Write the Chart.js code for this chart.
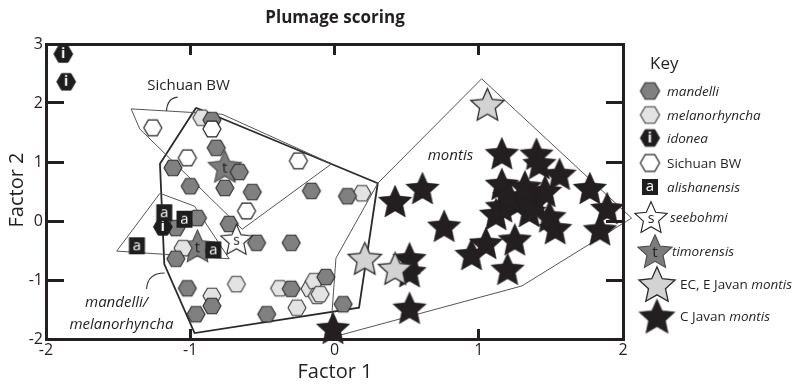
<!DOCTYPE html>
<html><head><meta charset="utf-8">
<script src="https://cdn.jsdelivr.net/npm/chart.js@4.4.0/dist/chart.umd.min.js"></script>
<style>html,body{margin:0;padding:0;background:#fff}#wrap{width:792px;height:385px}</style>
</head><body><div id="wrap"><canvas id="c" width="792" height="385"></canvas></div>
<script>
// ---- data (Factor 1, Factor 2) ----
const xTicks = [-2, -1, 0, 1, 2];
const yTicks = [-2, -1, 0, 1, 2, 3];

const mandelli = [[-0.85,1.71],[-0.82,1.24],[-1.12,0.90],[-0.66,0.83],[-1.00,0.59],[-0.76,0.56],[-0.57,0.49],[-0.16,0.51],
  [-0.95,0.05],[-1.10,-0.12],[-0.73,-0.05],[-0.54,-0.37],[-0.30,-0.37],[-1.10,-0.64],[-1.02,-1.14],[-0.85,-1.44],
  [-0.96,-1.58],[-0.47,-1.58],[-0.30,-1.15],[-0.06,-0.95],[0.09,0.42],[0.06,-1.41]];
const melanorhyncha = [[-0.92,1.75],[-1.05,-0.46],[-0.68,-1.07],[-0.38,-1.14],[-0.17,-1.15],[-0.14,-1.02],[-0.12,-1.27],
  [-0.26,-1.47],[-0.85,-1.27],[0.19,0.47],[-0.10,-1.24]];
const idonea = [[-1.88,2.83],[-1.86,2.36],[-1.19,-0.10]];
const sichuanBW = [[-1.26,1.58],[-0.85,1.56],[-1.02,1.07],[-0.25,1.02],[-0.61,0.17]];
const alishanensis = [[-1.18,0.14],[-1.04,0.03],[-1.37,-0.42],[-0.84,-0.49]];
const seebohmi = [[-0.68,-0.31]];
const timorensis = [[-0.76,0.93],[-0.95,-0.42]];
const ecEJavanMontis = [[1.06,1.98],[0.21,-0.63],[0.42,-0.80]];
const cJavanMontis = [[0.42,0.34],[0.61,0.56],[0.76,-0.08],[0.52,-0.63],[0.52,-0.85],[0.52,-1.47],[-0.01,-1.81],
  [0.95,-0.56],[1.05,-0.37],[1.20,-0.81],[1.25,-0.31],[1.16,1.15],[1.40,1.14],[1.42,0.98],[1.56,0.80],[1.77,0.56],
  [1.89,0.22],[1.84,-0.14],[1.53,-0.12],[1.12,0.12],[1.16,0.63],[1.16,0.25],[1.28,0.34],[1.39,0.34],[1.49,0.08],
  [1.35,0.17],[1.21,0.42],[1.32,0.59],[1.46,0.51]];

// hull outlines
const hullSichuan = [[-1.41,1.90],[-0.78,1.81],[-0.02,0.97],[-0.64,-0.14],[-1.35,1.56],[-1.41,1.90]];
const hullMandelli = [[-0.96,1.92],[-1.21,0.97],[-1.18,-0.73],[-0.97,-1.90],[0.17,-1.47],[0.30,0.64],[-0.96,1.92]];
const hullAlishan = [[-1.21,0.47],[-0.97,0.25],[-0.73,-0.64],[-1.51,-0.51],[-1.21,0.47]];
const hullMontis = [[1.02,2.41],[2.06,0.05],[1.30,-1.10],[-0.03,-1.98],[0.01,-0.63],[0.30,0.64],[1.02,2.41]];

const pts = a => a.map(p => ({x:p[0], y:p[1]}));
const FONT = "'Open Sans', 'Noto Sans', sans-serif";
const INK = '#231f20';

// ---- symbol images ----
function mk(size){ const c=document.createElement('canvas'); c.width=size; c.height=size; return c; }
function hexImg(r, fill, stroke, lw, letter, lc, fs){
  const s=Math.ceil(2*r+lw+4), c=mk(s), g=c.getContext('2d'), m=s/2;
  g.beginPath();
  for(let i=0;i<6;i++){ const a=i*Math.PI/3; g.lineTo(m+r*Math.cos(a), m+r*Math.sin(a)); }
  g.closePath(); g.fillStyle=fill; g.fill(); g.lineWidth=lw; g.strokeStyle=stroke; g.stroke();
  if(letter){ g.fillStyle=lc; g.font='bold '+fs+'px '+FONT; g.textAlign='center'; g.textBaseline='middle'; g.fillText(letter,m,m+0.5); }
  return c;
}
function starImg(R, k, fill, stroke, lw, letter, lc, fs){
  const s=Math.ceil(2*R+lw+4), c=mk(s), g=c.getContext('2d'), m=s/2, cy=m+R*0.1;
  g.beginPath();
  for(let i=0;i<10;i++){ const a=-Math.PI/2+i*Math.PI/5, rr=i%2?R*k:R; g.lineTo(m+rr*Math.cos(a), cy+rr*Math.sin(a)); }
  g.closePath(); g.fillStyle=fill; g.fill(); if(lw>0){ g.lineWidth=lw; g.strokeStyle=stroke; g.lineJoin='miter'; g.stroke(); }
  if(letter){ g.fillStyle=lc; g.font=fs+'px '+FONT; g.textAlign='center'; g.textBaseline='middle'; g.fillText(letter,m,cy); }
  return c;
}
function sqImg(w, h, letter){
  const s=Math.ceil(Math.max(w,h)+2), c=mk(s), g=c.getContext('2d');
  g.fillStyle='#1e1e1e'; g.fillRect((s-w)/2,(s-h)/2,w,h);
  g.fillStyle='#fff'; g.font='15px '+FONT; g.textAlign='center'; g.textBaseline='middle'; g.fillText(letter,s/2,s/2);
  return c;
}
const SYM = {
  mandelli: hexImg(9,'#808080','#2b2b2b',1.1),
  melan: hexImg(9,'#e3e3e3','#3a3a3a',1.1),
  idonea: hexImg(9.4,'#1e1c1c','#1e1c1c',1,'i','#fff',14),
  sichuan: hexImg(9,'#ffffff','#222',1.2),
  alishan: sqImg(16,17,'a'),
  seeb: starImg(16.5,0.47,'#ffffff','#222',1.1,'s','#222',14),
  timor: starImg(17.5,0.47,'#7c7c7c','#4a4a4a',1.1,'t','#222',15),
  ec: starImg(17.5,0.47,'#d3d3d3','#2b2b2b',1.3),
  cj: starImg(17.5,0.47,'#231f20','#231f20',0.5)
};
const LSYM = {
  mandelli: hexImg(9.6,'#808080','#2b2b2b',1.1),
  melan: hexImg(9.6,'#e3e3e3','#3a3a3a',1.1),
  idonea: hexImg(9.6,'#1e1c1c','#1e1c1c',1,'i','#fff',14),
  sichuan: hexImg(9.6,'#ffffff','#222',1.2),
  alishan: sqImg(16,16,'a'),
  seeb: starImg(17,0.47,'#ffffff','#222',1.1,'s','#222',14),
  timor: starImg(18,0.47,'#7c7c7c','#4a4a4a',1.1,'t','#222',15),
  ec: starImg(19,0.47,'#d3d3d3','#2b2b2b',1.3),
  cj: starImg(19,0.47,'#231f20','#231f20',0.5)
};

function ptSet(label, arr, img, order){
  return {label, data: pts(arr), pointStyle: img, pointRadius: 8, pointHoverRadius: 8, showLine:false, order, clip:false};
}
function hull(label, arr, color, w, order){
  return {label, data: pts(arr), showLine:true, pointRadius:0, borderColor:color, borderWidth:w, fill:false, tension:0, order, clip:false};
}

const textLayer = {
  id:'textLayer',
  afterDraw(chart){
    const ctx = chart.ctx, x = chart.scales.x, y = chart.scales.y;
    const P=(vx,vy)=>[x.getPixelForValue(vx), y.getPixelForValue(vy)];
    ctx.save();
    // leader curves
    ctx.lineWidth=1.1; ctx.strokeStyle='#333';
    let s=P(-1.165,1.864), cc=P(-1.158,2.085), e=P(-1.088,2.10);
    ctx.beginPath(); ctx.moveTo(s[0],s[1]); ctx.quadraticCurveTo(cc[0],cc[1],e[0],e[1]); ctx.stroke();
    s=P(-1.303,-1.153); cc=P(-1.296,-0.881); e=P(-1.178,-0.881);
    ctx.beginPath(); ctx.moveTo(s[0],s[1]); ctx.quadraticCurveTo(cc[0],cc[1],e[0],e[1]); ctx.stroke();
    // annotations
    ctx.fillStyle=INK; ctx.textAlign='center'; ctx.textBaseline='middle';
    ctx.font='15px '+FONT; ctx.fillText('Sichuan BW', ...P(-1.012,2.288));
    ctx.font='italic 15px '+FONT; ctx.fillText('montis', ...P(0.804,1.10));
    ctx.fillText('mandelli/', ...P(-1.511,-1.39));
    ctx.fillText('melanorhyncha', ...P(-1.477,-1.763));
    // titles
    ctx.font='bold 17px '+FONT; ctx.fillText('Plumage scoring', 335, 18);
    ctx.font='20px '+FONT; ctx.fillText('Factor 1', 335, 372);
    ctx.save(); ctx.translate(17,190); ctx.rotate(-Math.PI/2); ctx.fillText('Factor 2',0,0); ctx.restore();
    // legend
    ctx.textAlign='left';
    ctx.font='17px '+FONT; ctx.fillText('Key', 650, 64);
    const items=[
      ['mandelli',650,91,667,[['mandelli',true]]],
      ['melan',650,115,667,[['melanorhyncha',true]]],
      ['idonea',650,138,667,[['idonea',true]]],
      ['sichuan',650,163,667,[['Sichuan BW',false]]],
      ['alishan',650,187,667,[['alishanensis',true]]],
      ['seeb',651,217,670,[['seebohmi',true]]],
      ['timor',655,251,672,[['timorensis',true]]],
      ['ec',657,284,680,[['EC, E Javan ',false],['montis',true]]],
      ['cj',657,316,680,[['C Javan ',false],['montis',true]]]
    ];
    items.forEach(([k,sx,sy,tx,parts])=>{
      const im=LSYM[k]; ctx.drawImage(im, sx-im.width/2, sy-im.height/2);
      let cx=tx;
      parts.forEach(([t,it])=>{ ctx.font=(it?'italic ':'')+'13.5px '+FONT; ctx.fillText(t,cx,sy+1); cx+=ctx.measureText(t).width; });
    });
    ctx.restore();
  }
};

function axis(opts){
  return {
    type:'linear', position:opts.position, min:opts.min, max:opts.max,
    grid:{display:true, drawOnChartArea:false, drawTicks:true, tickLength:opts.tl, tickWidth:3, tickColor:INK, z:1},
    border:{display:true, width:3, color:INK, z:1},
    afterBuildTicks:s=>{ s.ticks=opts.ticks.map(v=>({value:v})); },
    afterFit:s=>{ if(opts.h!==undefined) s.height=opts.h; if(opts.w!==undefined) s.width=opts.w; },
    ticks:{display:opts.labels, autoSkip:false, maxRotation:0, padding:opts.pad||0, color:INK, font:{family:FONT,size:16}}
  };
}

new Chart(document.getElementById('c'), {
  type:'scatter',
  data:{ datasets:[
    ptSet('alishanensis', alishanensis, SYM.alishan, 0),
    ptSet('idonea', idonea, SYM.idonea, 1),
    ptSet('seebohmi', seebohmi, SYM.seeb, 2),
    ptSet('Sichuan BW', sichuanBW, SYM.sichuan, 3),
    ptSet('mandelli', mandelli, SYM.mandelli, 4),
    ptSet('melanorhyncha', melanorhyncha, SYM.melan, 5),
    ptSet('timorensis', timorensis, SYM.timor, 6),
    ptSet('EC, E Javan montis', ecEJavanMontis, SYM.ec, 7),
    ptSet('C Javan montis', cJavanMontis, SYM.cj, 8),
    hull('hull Sichuan', hullSichuan, '#555', 1, 9),
    hull('hull alishanensis', hullAlishan, '#555', 1, 10),
    hull('hull montis', hullMontis, '#555', 1, 11),
    hull('hull mandelli', hullMandelli, '#2a2a2a', 1.8, 12)
  ]},
  options:{
    responsive:false, animation:false, devicePixelRatio:1,
    layout:{padding:{left:0,right:169,top:44,bottom:0}},
    plugins:{legend:{display:false}, tooltip:{enabled:false}, title:{display:false}},
    scales:{
      x: axis({position:'bottom', min:-2, max:2, ticks:xTicks, tl:-10, h:46, labels:true, pad:12}),
      x2: axis({position:'top', min:-2, max:2, ticks:xTicks, tl:-11, h:0, labels:false}),
      y: axis({position:'left', min:-2, max:3, ticks:yTicks, tl:-18, w:46, labels:true, pad:21}),
      y2: axis({position:'right', min:-2, max:3, ticks:yTicks, tl:-17, w:0, labels:false})
    }
  },
  plugins:[textLayer]
});
</script></body></html>
